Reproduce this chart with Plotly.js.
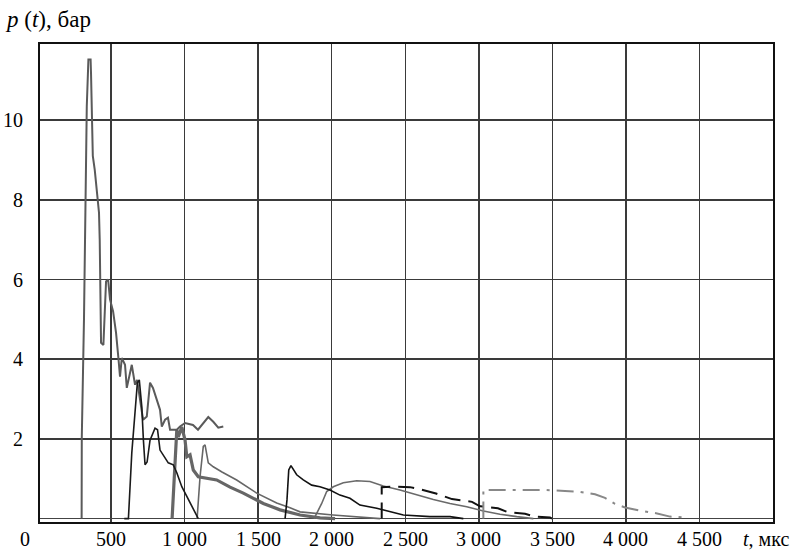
<!DOCTYPE html>
<html>
<head>
<meta charset="utf-8">
<script src="https://cdn.plot.ly/plotly-3.0.1.min.js"></script>
<style>html,body{margin:0;padding:0;background:#fff;}#chart{width:798px;height:550px;}</style>
</head>
<body>
<div id="chart"></div>
<script>
// ---- data (t in мкс, p in бар) ----
const tMain = [300,301,316,323,335,346,361,364,376,389,405,418,423,425,432,448,466,480,493,514,534,550,561,573,595,607,641,663,677,709,718,743,765,785,811,833,845,867,887,901,947,969,1003,1057,1091,1116,1161,1195,1229,1263];
const pMain = [0,2.02,5.0,7.0,10.35,11.52,11.52,11.15,9.1,8.76,8.14,7.68,7.0,6.5,4.41,4.36,5.95,6.0,5.5,5.2,4.66,4.03,3.56,4.03,3.86,3.28,3.86,3.36,3.48,2.69,2.48,2.56,3.41,3.28,2.98,2.73,2.31,2.48,2.53,2.23,2.23,2.31,2.40,2.35,2.23,2.35,2.55,2.43,2.28,2.31];

const tBlack1 = [590,618,641,663,679,692,709,720,731,745,765,799,816,833,855,889,923,947,981,1025,1071,1093];
const pBlack1 = [0,0,1.65,2.65,3.41,3.48,2.81,1.97,1.35,1.42,1.97,2.27,2.23,1.72,1.60,1.40,1.35,1.15,0.80,0.47,0.14,0];

const tThick = [915,935,947,957,981,1003,1015,1037,1059,1093,1139,1218,1309,1399,1535,1649,1785,1921,2023];
const pThick = [0,1.30,2.23,2.05,2.30,1.97,1.55,1.60,1.22,1.05,1.02,0.97,0.79,0.64,0.38,0.22,0.09,0.02,0];

const tThin = [1085,1105,1127,1139,1161,1195,1254,1354,1490,1626,1717,1785,2009,2306,2328];
const pThin = [0,1.05,1.81,1.85,1.40,1.30,1.17,0.97,0.64,0.39,0.27,0.17,0.09,0.02,0];

const tBlack2 = [1683,1696,1708,1723,1762,1807,1864,1920,1988,2056,2124,2192,2306,2396,2487,2668,2804,2895];
const pBlack2 = [0,0.47,1.22,1.33,1.10,0.97,0.84,0.80,0.72,0.59,0.51,0.34,0.26,0.17,0.09,0.05,0.05,0];

const tSmooth = [1880,1898,1932,1966,2011,2079,2170,2260,2351,2464,2578,2691,2804,2918,3031,3144,3258,3371];
const pSmooth = [0,0.12,0.38,0.68,0.80,0.90,0.95,0.93,0.82,0.72,0.59,0.48,0.38,0.30,0.19,0.11,0.05,0];

const tDash = [2340,2340,2430,2532,2600,2709,2818,2954,3008,3130,3192,3314,3382,3484,3497];
const pDash = [0,0.79,0.80,0.79,0.74,0.63,0.49,0.42,0.31,0.26,0.17,0.12,0.05,0.03,0];

const tDashDot = [3031,3031,3144,3280,3450,3586,3688,3790,3858,3926,3994,4096,4198,4300,4402,4415];
const pDashDot = [0,0.72,0.72,0.72,0.72,0.69,0.67,0.61,0.52,0.37,0.28,0.20,0.14,0.05,0.03,0];

const xTickVals = [500,1000,1500,2000,2500,3000,3500,4000,4500];
const xTickText = ["500","1 000","1 500","2 000","2 500","3 000","3 500","4 000","4 500"];
const yTickVals = [2,4,6,8,10];
const yTickText = ["2","4","6","8","10"];

const FONT = 'Liberation Serif, Times New Roman, Times, serif';

function tr(x, y, color, width, dash) {
  return {x: x, y: y, type: 'scatter', mode: 'lines',
          line: {color: color, width: width, dash: dash || 'solid'},
          hoverinfo: 'skip', showlegend: false};
}

const traces = [
  tr(tSmooth, pSmooth, '#6a6a6a', 1.6),
  tr(tThin, pThin, '#666666', 1.6),
  tr(tThick, pThick, '#666666', 3.2),
  tr(tMain, pMain, '#5a5a5a', 2),
  tr(tBlack1, pBlack1, '#1a1a1a', 1.6),
  tr(tBlack2, pBlack2, '#111111', 1.6),
  tr(tDash, pDash, '#111111', 2, '16px,8px'),
  tr(tDashDot, pDashDot, '#888888', 2, '17px,7px,3px,7px')
];

const annotations = [
  {text: '<i>p</i> (<i>t</i>), бар', xref: 'paper', yref: 'paper',
   x: -0.05, y: 1.0, xanchor: 'left', yanchor: 'middle', yshift: 25,
   showarrow: false, font: {family: FONT, size: 23, color: '#000'}},
  {text: '0', xref: 'paper', yref: 'paper', x: -0.0205, y: 0, xanchor: 'center', yanchor: 'middle',
   yshift: -17, showarrow: false, font: {family: FONT, size: 20, color: '#000'}},
  {text: '<i>t</i>, мкс', xref: 'paper', yref: 'paper', x: 1.024, y: 0, xanchor: 'right', yanchor: 'middle',
   yshift: -17, showarrow: false, font: {family: FONT, size: 20, color: '#000'}}
];
xTickVals.forEach(function (v, i) {
  annotations.push({text: xTickText[i], xref: 'x', yref: 'paper', x: v, y: 0,
    xanchor: 'center', yanchor: 'middle', yshift: -17, showarrow: false,
    font: {family: FONT, size: 20, color: '#000'}});
});

const layout = {
  width: 798, height: 550,
  margin: {l: 40, r: 25, t: 44, b: 28, pad: 0},
  paper_bgcolor: '#ffffff', plot_bgcolor: '#ffffff',
  font: {family: FONT, size: 20, color: '#000'},
  xaxis: {
    range: [17, 5000], tickvals: xTickVals, ticktext: xTickText, showticklabels: false,
    showgrid: true, gridcolor: '#3a3a3a', gridwidth: 1.5,
    zeroline: false, showline: true, linecolor: '#111', linewidth: 2, mirror: true,
    ticks: ''
  },
  yaxis: {
    range: [-0.085, 11.91], tickvals: yTickVals, ticktext: yTickText,
    showgrid: true, gridcolor: '#3a3a3a', gridwidth: 1.5,
    zeroline: true, zerolinecolor: '#444', zerolinewidth: 1.5,
    showline: true, linecolor: '#111', linewidth: 2, mirror: true,
    ticks: '', ticklabelstandoff: 11,
    tickfont: {family: FONT, size: 20, color: '#000'}
  },
  annotations: annotations
};

Plotly.newPlot('chart', traces, layout, {displayModeBar: false, staticPlot: true});
</script>
</body>
</html>
